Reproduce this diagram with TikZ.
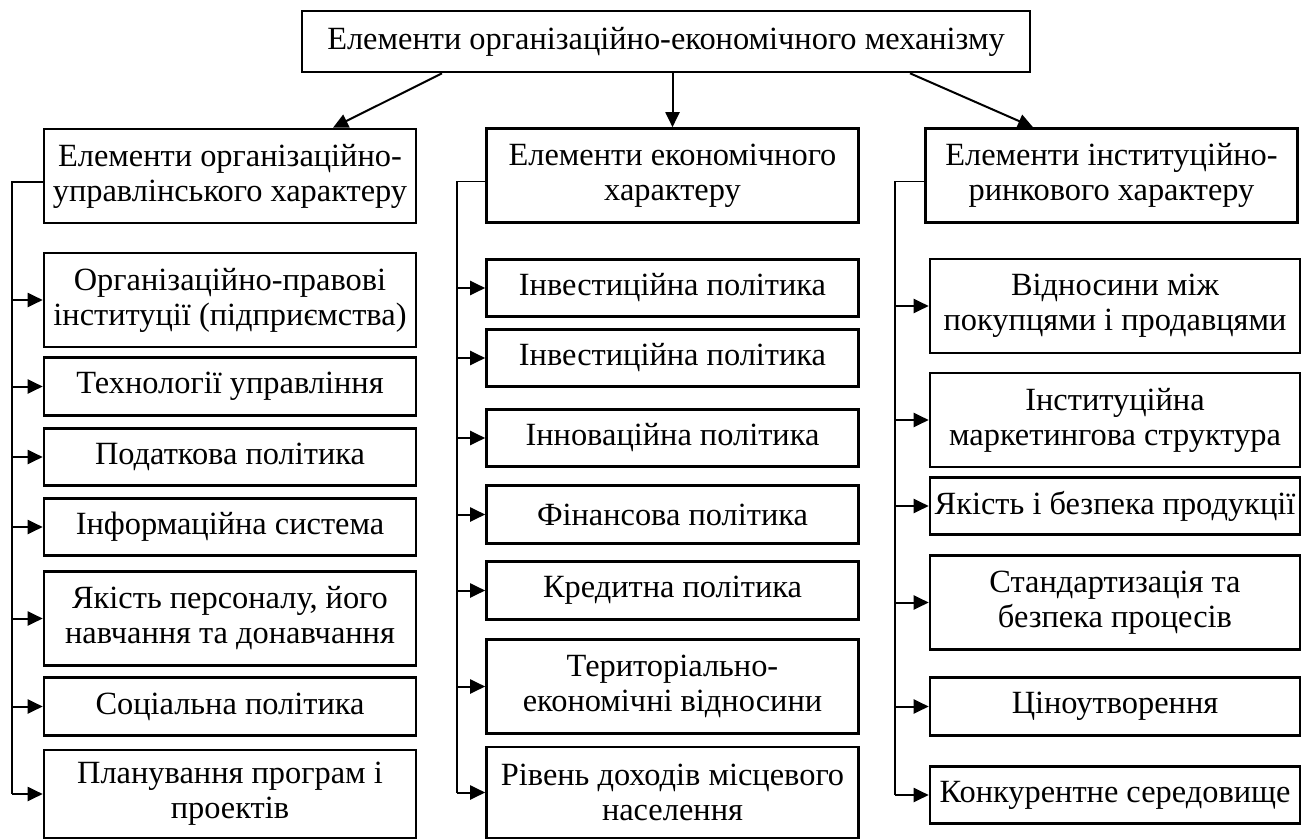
\documentclass[tikz,border=0pt]{standalone}
\usepackage{fontspec}
\setmainfont{Liberation Serif}
\usepackage{tikz}
\usetikzlibrary{arrows.meta}
\tikzset{
    every node/.style={draw, rectangle, line width=1.3pt, inner sep=0pt,
    	align=center, font=\fontsize{16.2pt}{17.5pt}\selectfont}
}
\tikzset{
    every edge/.append style={line width=1pt, -{Triangle[length=7.5pt,width=7pt]}}
}
\tikzset{
    oneline/.style={minimum width=186pt, minimum height=28.75pt},
    twoline/.style={minimum width=186pt, minimum height=47pt},
    trunk/.style={line width=0.6pt}
}

\begin{document}
\begin{tikzpicture}[x=0.5pt, y=-0.5pt]
  \useasboundingbox (0,0) rectangle (1306,840);
  \node (top) [minimum width=364pt, minimum height=30.5pt] at (666,41.5) {Елементи організаційно-економічного механізму};

  \node (hl) [twoline] at (230,176) {Елементи організаційно-\\управлінського характеру};
  \node (hm) [twoline] at (672.5,175.5) {Елементи економічного\\характеру};
  \node (hr) [twoline] at (1111.5,175.5) {Елементи інституційно-\\ринкового характеру};

  \node (l1) [twoline] at (230,300) {Організаційно-правові\\інституції (підприємства)};
  \node (l2) [oneline] at (230,386.5) {Технології управління};
  \node (l3) [oneline] at (230,457) {Податкова політика};
  \node (l4) [oneline] at (230,527) {Інформаційна система};
  \node (l5) [twoline] at (230,618.5) {Якість персоналу, його\\навчання та донавчання};
  \node (l6) [oneline] at (230,706.5) {Соціальна політика};
  \node (l7) [twoline, minimum height=44pt] at (230,794) {Планування програм і\\проектів};

  \node (m1) [oneline] at (672.5,288) {Інвестиційна політика};
  \node (m2) [oneline] at (672.5,358) {Інвестиційна політика};
  \node (m3) [oneline] at (672.5,438) {Інноваційна політика};
  \node (m4) [oneline] at (672.5,514.5) {Фінансова політика};
  \node (m5) [oneline] at (672.5,590.5) {Кредитна політика};
  \node (m6) [twoline] at (672.5,686.5) {Територіально-\\економічні відносини};
  \node (m7) [twoline, minimum height=45.5pt] at (672.5,792.5) {Рівень доходів місцевого\\населення};

  \node (r1) [twoline, minimum width=185pt] at (1115,306) {Відносини між\\покупцями і продавцями};
  \node (r2) [twoline, minimum width=185pt] at (1115,420) {Інституційна\\маркетингова структура};
  \node (r3) [oneline, minimum width=185pt] at (1115,506) {Якість і безпека продукції};
  \node (r4) [twoline, minimum width=185pt] at (1115,602.5) {Стандартизація та\\безпека процесів};
  \node (r5) [oneline, minimum width=185pt] at (1115,706.5) {Ціноутворення};
  \node (r6) [oneline, minimum width=185pt] at (1115,795) {Конкурентне середовище};

  \coordinate (lx) at (12,794);
  \coordinate (mx) at (457,792.5);
  \coordinate (rx) at (895,795);

  \draw ([xshift=-112pt]top.south) edge ([xshift=51.5pt]hl.north);
  \draw (hm.north |- top.south) edge (hm.north);
  \draw ([xshift=122pt]top.south) edge ([xshift=-39.25pt]hr.north);

  \draw[trunk] ([yshift=-3pt]hl.west) -| (lx);
  \draw[trunk] ([yshift=-3pt]hm.west) -| (mx);
  \draw[trunk] ([yshift=-3pt]hr.west) -| (rx);

  \draw (lx |- l1) edge (l1); \draw (lx |- l2) edge (l2); \draw (lx |- l3) edge (l3);
  \draw (lx |- l4) edge (l4); \draw (lx |- l5) edge (l5); \draw (lx |- l6) edge (l6);
  \draw (lx |- l7) edge (l7);
  \draw (mx |- m1) edge (m1); \draw (mx |- m2) edge (m2); \draw (mx |- m3) edge (m3);
  \draw (mx |- m4) edge (m4); \draw (mx |- m5) edge (m5); \draw (mx |- m6) edge (m6);
  \draw (mx |- m7) edge (m7);
  \draw (rx |- r1) edge (r1); \draw (rx |- r2) edge (r2); \draw (rx |- r3) edge (r3);
  \draw (rx |- r4) edge (r4); \draw (rx |- r5) edge (r5); \draw (rx |- r6) edge (r6);
\end{tikzpicture}
\end{document}
